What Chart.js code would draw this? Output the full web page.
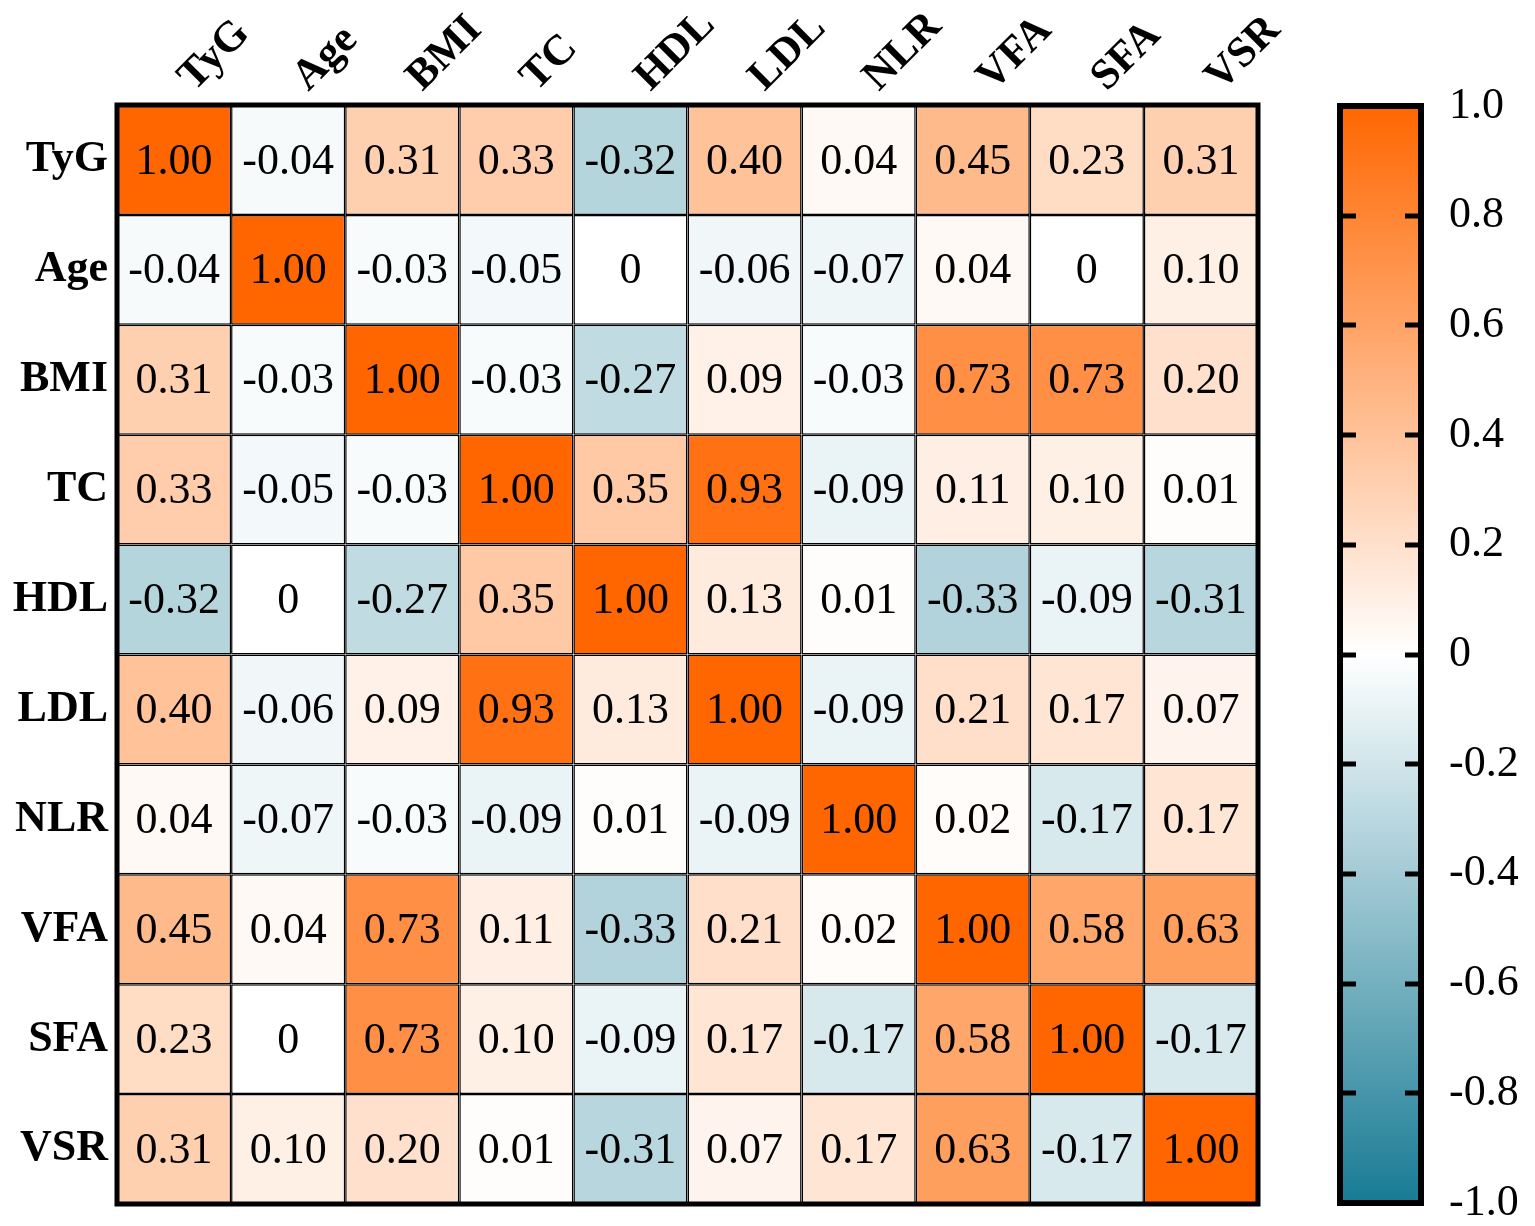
<!DOCTYPE html>
<html>
<head>
<meta charset="utf-8">
<script src="https://cdn.jsdelivr.net/npm/chart.js@4/dist/chart.umd.min.js"></script>
<style>
  html, body { margin: 0; padding: 0; background: #fff; }
  body { width: 1535px; height: 1226px; position: relative; overflow: hidden; }
  #heatWrap { position: absolute; left: 0; top: 0; width: 1300px; height: 1226px; }
  #barWrap { position: absolute; left: 1300px; top: 0; width: 235px; height: 1226px; }
</style>
</head>
<body>
<div id="heatWrap"><canvas id="heat"></canvas></div>
<div id="barWrap"><canvas id="scaleBar"></canvas></div>
<script>
// variables, same order on both axes
const variables = ['TyG', 'Age', 'BMI', 'TC', 'HDL', 'LDL', 'NLR', 'VFA', 'SFA', 'VSR'];

// correlation rows
const rowTyG = [1.00, -0.04, 0.31, 0.33, -0.32, 0.40, 0.04, 0.45, 0.23, 0.31];
const rowAge = [-0.04, 1.00, -0.03, -0.05, 0, -0.06, -0.07, 0.04, 0, 0.10];
const rowBMI = [0.31, -0.03, 1.00, -0.03, -0.27, 0.09, -0.03, 0.73, 0.73, 0.20];
const rowTC  = [0.33, -0.05, -0.03, 1.00, 0.35, 0.93, -0.09, 0.11, 0.10, 0.01];
const rowHDL = [-0.32, 0, -0.27, 0.35, 1.00, 0.13, 0.01, -0.33, -0.09, -0.31];
const rowLDL = [0.40, -0.06, 0.09, 0.93, 0.13, 1.00, -0.09, 0.21, 0.17, 0.07];
const rowNLR = [0.04, -0.07, -0.03, -0.09, 0.01, -0.09, 1.00, 0.02, -0.17, 0.17];
const rowVFA = [0.45, 0.04, 0.73, 0.11, -0.33, 0.21, 0.02, 1.00, 0.58, 0.63];
const rowSFA = [0.23, 0, 0.73, 0.10, -0.09, 0.17, -0.17, 0.58, 1.00, -0.17];
const rowVSR = [0.31, 0.10, 0.20, 0.01, -0.31, 0.07, 0.17, 0.63, -0.17, 1.00];

const matrix = [rowTyG, rowAge, rowBMI, rowTC, rowHDL, rowLDL, rowNLR, rowVFA, rowSFA, rowVSR];

// colour bar range
const scaleMin = -1;
const scaleMax = 1;
const scaleStep = 0.2;

const serif = "'Liberation Serif', 'Times New Roman', serif";
const colorNeg = [24, 123, 149];
const colorPos = [255, 102, 0];

function cellColor(v) {
    const end = v >= 0 ? colorPos : colorNeg;
    const t = Math.min(1, Math.abs(v));
    const c = end.map(e => Math.round(255 + (e - 255) * t));
    return `rgb(${c[0]},${c[1]},${c[2]})`;
}

function fmt(v) {
    return v === 0 ? '0' : v.toFixed(2);
}

const cellText = {
    id: 'cellText',
    afterDatasetsDraw(chart) {
        const ctx = chart.ctx;
        const area = chart.chartArea;
        ctx.save();
        ctx.fillStyle = '#000';
        ctx.font = `44px ${serif}`;
        ctx.textAlign = 'center';
        ctx.textBaseline = 'middle';
        chart.data.datasets.forEach((ds, i) => {
            chart.getDatasetMeta(i).data.forEach((bar, j) => {
                const p = bar.getCenterPoint();
                ctx.fillText(fmt(matrix[i][j]), p.x, p.y + 2);
            });
        });
        ctx.strokeStyle = '#000';
        ctx.lineWidth = 5;
        ctx.strokeRect(area.left, area.top, area.right - area.left, area.bottom - area.top);

        // slanted column names along the top
        const xs = chart.scales.x;
        ctx.font = `bold 43px ${serif}`;
        ctx.textAlign = 'left';
        ctx.textBaseline = 'alphabetic';
        variables.forEach((name, i) => {
            ctx.save();
            ctx.translate(xs.getPixelForTick(i) + 20, area.top - 13);
            ctx.rotate(-Math.PI / 4);
            ctx.fillText(name, 0, 0);
            ctx.restore();
        });
        ctx.restore();
    }
};

new Chart(document.getElementById('heat'), {
    type: 'bar',
    data: {
        labels: variables,
        datasets: variables.map((name, i) => ({
            label: name,
            data: variables.map(() => [i, i + 1]),
            backgroundColor: matrix[i].map(cellColor),
            borderColor: '#000',
            borderWidth: 1.5,
            borderSkipped: false,
            inflateAmount: 0,
            grouped: false,
            barPercentage: 1,
            categoryPercentage: 1
        }))
    },
    options: {
        responsive: true,
        maintainAspectRatio: false,
        animation: false,
        layout: { padding: { left: 0, top: 0, right: 42, bottom: 22 } },
        plugins: { legend: { display: false }, tooltip: { enabled: false } },
        scales: {
            x: {
                position: 'top',
                grid: { display: false, drawTicks: false },
                border: { display: false },
                ticks: { display: false },
                afterFit: s => { s.height = 105; s.paddingLeft = 0; s.paddingRight = 0; }
            },
            y: {
                min: 0,
                max: 10,
                reverse: true,
                grid: { display: false, drawTicks: false },
                border: { display: false },
                afterBuildTicks: s => { s.ticks = variables.map((_, i) => ({ value: i + 0.5 })); },
                ticks: {
                    color: '#000',
                    font: { family: serif, size: 44, weight: 'bold' },
                    padding: 9,
                    callback: v => variables[Math.floor(v)]
                },
                afterFit: s => { s.width = 117; s.paddingTop = 0; s.paddingBottom = 0; }
            }
        }
    },
    plugins: [cellText]
});

const barFrame = {
    id: 'barFrame',
    afterDatasetsDraw(chart) {
        const ctx = chart.ctx;
        const a = chart.chartArea;
        const y = chart.scales.y;
        ctx.save();
        ctx.strokeStyle = '#000';
        ctx.lineWidth = 6;
        ctx.strokeRect(a.left, a.top, a.right - a.left, a.bottom - a.top);
        ctx.lineWidth = 5;
        y.ticks.forEach(t => {
            if (t.value <= scaleMin || t.value >= scaleMax) return;
            const py = Math.round(y.getPixelForValue(t.value));
            ctx.beginPath();
            ctx.moveTo(a.left, py); ctx.lineTo(a.left + 16, py);
            ctx.moveTo(a.right - 16, py); ctx.lineTo(a.right, py);
            ctx.stroke();
        });
        ctx.restore();
    }
};

new Chart(document.getElementById('scaleBar'), {
    type: 'bar',
    data: {
        labels: [''],
        datasets: [{
            data: [[scaleMin, scaleMax]],
            backgroundColor: ctx => {
                const { chart } = ctx;
                const a = chart.chartArea;
                if (!a) return 'rgba(0,0,0,0)';
                const y = chart.scales.y;
                const g = chart.ctx.createLinearGradient(0, y.getPixelForValue(scaleMin), 0, y.getPixelForValue(scaleMax));
                for (let k = 0; k <= 10; k++) {
                    g.addColorStop(k / 10, cellColor(scaleMin + k * (scaleMax - scaleMin) / 10));
                }
                return g;
            },
            borderWidth: 0,
            inflateAmount: 0,
            barPercentage: 1,
            categoryPercentage: 1
        }]
    },
    options: {
        responsive: true,
        maintainAspectRatio: false,
        animation: false,
        layout: { padding: { left: 40, top: 106, right: 0, bottom: 23 } },
        plugins: { legend: { display: false }, tooltip: { enabled: false } },
        scales: {
            x: { display: false },
            y: {
                position: 'right',
                min: scaleMin,
                max: scaleMax,
                grid: { display: false, drawTicks: false },
                border: { display: false },
                ticks: {
                    stepSize: scaleStep,
                    color: '#000',
                    padding: 28,
                    font: { family: serif, size: 44 },
                    callback: v => Math.abs(v) < 1e-9 ? '0' : Number(v).toFixed(1)
                },
                afterFit: s => { s.width = 114; s.paddingTop = 0; s.paddingBottom = 0; }
            }
        }
    },
    plugins: [barFrame]
});
</script>
</body>
</html>
